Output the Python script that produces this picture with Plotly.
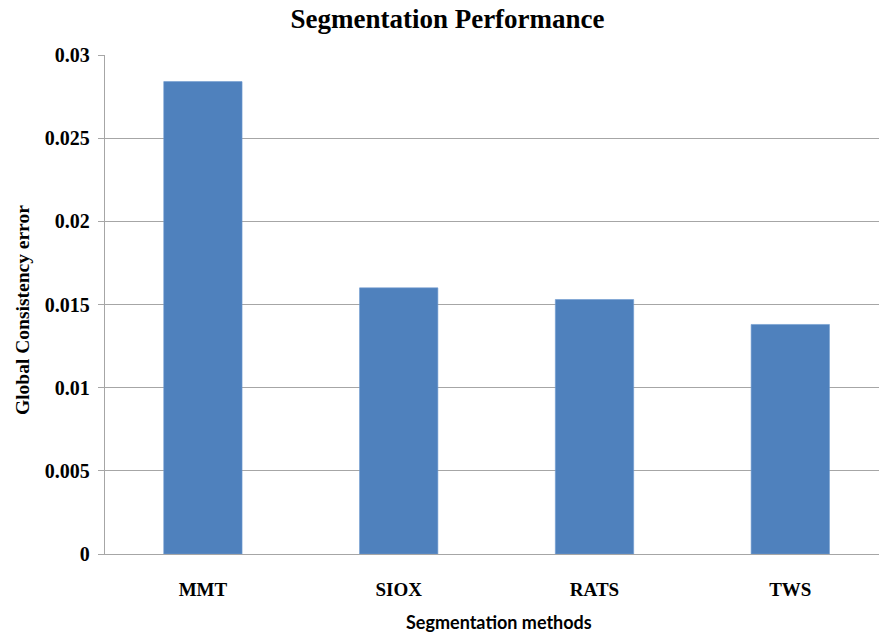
import plotly.graph_objects as go

# Global consistency error per segmentation method
methods = ["MMT", "SIOX", "RATS", "TWS"]
gce = [0.0284, 0.0160, 0.0153, 0.0138]

y_ticks = [0, 0.005, 0.01, 0.015, 0.02, 0.025, 0.03]
y_tick_text = ["0", "0.005", "0.01", "0.015", "0.02", "0.025", "0.03"]

W, H = 879, 636
M_L, M_R, M_T, M_B = 105, 0, 55, 82
CAT_PX = 195.8  # pixel width of one category slot
plot_w = W - M_L - M_R
plot_h = H - M_T - M_B

serif = "Liberation Serif, Times New Roman, serif"
grid_col = "#A6A6A6"

fig = go.Figure(
    go.Bar(
        x=methods,
        y=gce,
        width=0.4,
        marker=dict(color="#4F81BD", line=dict(color="#6E9AD0", width=0.6)),
        showlegend=False,
    )
)

fig.update_layout(
    width=W,
    height=H,
    margin=dict(l=M_L, r=M_R, t=M_T, b=M_B),
    paper_bgcolor="white",
    plot_bgcolor="white",
    bargap=0.6,
    title=dict(
        text="Segmentation Performance",
        font=dict(family=serif, size=27, color="black", weight="bold"),
        xref="container", x=447.5 / W, xanchor="center",
        yref="container", y=1 - 19 / H, yanchor="middle",
    ),
    xaxis=dict(
        type="category",
        range=[-0.5, -0.5 + plot_w / CAT_PX],
        showline=True, linecolor=grid_col, linewidth=1.3,
        showgrid=False, zeroline=False,
        ticks="",
        ticklabelstandoff=18,
        tickfont=dict(family=serif, size=19, color="black", weight="bold"),
    ),
    yaxis=dict(
        range=[0, 0.03],
        tickvals=y_ticks, ticktext=y_tick_text,
        showline=True, linecolor=grid_col, linewidth=1.3,
        showgrid=True, gridcolor=grid_col, gridwidth=1.3,
        zeroline=False,
        ticks="outside", ticklen=6, tickcolor=grid_col, tickwidth=1.3,
        ticklabelstandoff=4,
        tickfont=dict(family=serif, size=20, color="black", weight="bold"),
    ),
    annotations=[
        dict(
            text="Global Consistency error",
            textangle=-90,
            xref="paper", x=(22 - M_L) / plot_w, xanchor="center",
            yref="paper", y=(M_T + plot_h - 310) / plot_h, yanchor="middle",
            showarrow=False,
            font=dict(family=serif, size=19.5, color="black", weight="bold"),
        ),
        dict(
            text="Segmentation methods",
            xref="paper", x=(498.5 - M_L) / plot_w, xanchor="center",
            yref="paper", y=(M_T + plot_h - 622) / plot_h, yanchor="middle",
            showarrow=False,
            font=dict(family="Lato, Open Sans, sans-serif", size=18, color="black", weight="bold"),
        ),
    ],
)

fig.write_html("out.html")
